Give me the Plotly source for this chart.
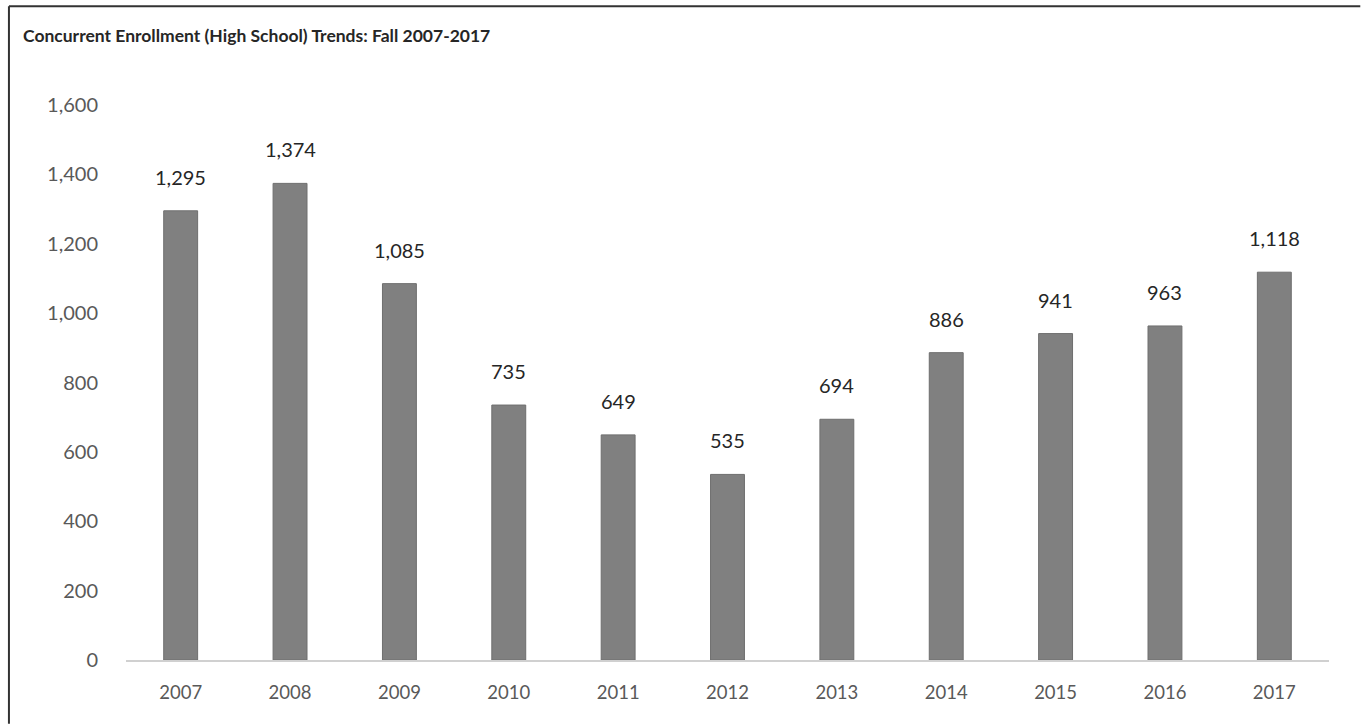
import plotly.graph_objects as go

years = ["2007", "2008", "2009", "2010", "2011", "2012", "2013", "2014", "2015", "2016", "2017"]
enrollment = [1295, 1374, 1085, 735, 649, 535, 694, 886, 941, 963, 1118]
y_ticks = [0, 200, 400, 600, 800, 1000, 1200, 1400, 1600]
title_text = "Concurrent Enrollment (High School) Trends: Fall 2007-2017"

FONT = "Lato, 'Open Sans', sans-serif"

fig = go.Figure(
    go.Bar(
        x=years,
        y=enrollment,
        width=0.31,
        marker=dict(color="#808080", line=dict(color="#6e6e6e", width=1)),
        hoverinfo="x+y",
    )
)

# value labels above each bar (category axis positions are serial indices)
for i, v in enumerate(enrollment):
    fig.add_annotation(
        x=i, y=v, text=f"{v:,}", showarrow=False,
        yanchor="middle", yshift=34,
        font=dict(family=FONT, size=20, color="#262626"),
    )

# outer frame: top and left edges
fig.add_shape(
    type="line", xref="paper", yref="paper",
    x0=-0.0973, y0=1.178, x1=1.026, y1=1.178,
    line=dict(color="#333333", width=2),
)
fig.add_shape(
    type="line", xref="paper", yref="paper",
    x0=-0.0973, y0=-0.115, x1=-0.0973, y1=1.178,
    line=dict(color="#333333", width=2),
)

fig.add_annotation(
    text=f"<b>{title_text}</b>", xref="paper", yref="paper",
    x=-0.0872, y=1.126, xanchor="left", yanchor="middle",
    showarrow=False, font=dict(family=FONT, size=17.5, color="#262626"),
)

fig.update_layout(
    width=1361, height=724,
    margin=dict(l=126, r=32, t=105, b=64),
    paper_bgcolor="white", plot_bgcolor="white",
    showlegend=False,
    font=dict(family=FONT, color="#595959"),
    xaxis=dict(
        type="category",
        range=[-0.5, len(years) - 0.5],
        showline=True, linecolor="#d0d0d0", linewidth=1.5,
        ticks="", showgrid=False,
        tickfont=dict(family=FONT, size=18.5, color="#595959"),
        ticklabelstandoff=15,
    ),
    yaxis=dict(
        range=[0, 1600], tickvals=y_ticks,
        tickformat=",", showgrid=False, zeroline=False, showline=False,
        ticks="",
        tickfont=dict(family=FONT, size=20, color="#595959"),
        ticklabelstandoff=27,
    ),
)

fig.write_html("out.html")
